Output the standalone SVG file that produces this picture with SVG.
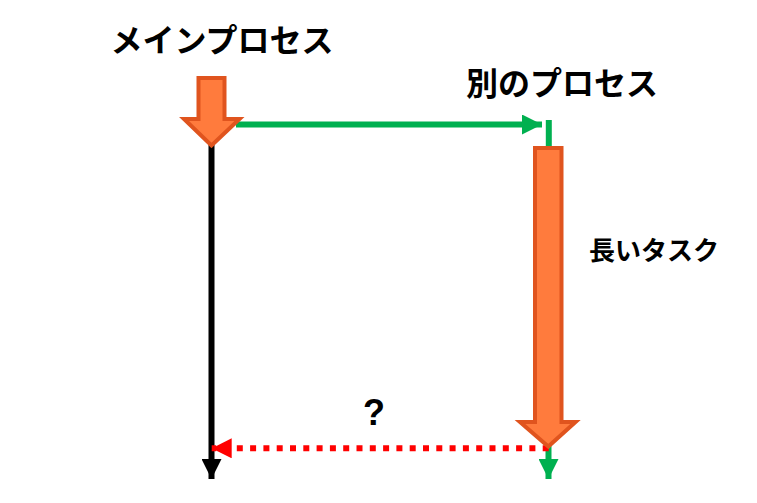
<svg xmlns="http://www.w3.org/2000/svg" width="757" height="503" viewBox="0 0 757 503">
  <style>
    .lbl { font-family: "Noto Sans CJK JP", "Noto Sans", sans-serif; font-weight: bold; fill: #000; text-anchor: middle; }
    .block { fill: #FF7B3D; stroke: #E0541E; stroke-width: 4; stroke-linejoin: miter; }
  </style>
  <defs>
    <marker id="ahGreen" markerUnits="userSpaceOnUse" markerWidth="20" markerHeight="20" refX="20" refY="10" orient="auto">
      <path d="M0,0 L20,10 L0,20 Z" fill="#00B050"/>
    </marker>
    <marker id="ahBlack" markerUnits="userSpaceOnUse" markerWidth="20" markerHeight="20" refX="20" refY="10" orient="auto">
      <path d="M0,0 L20,10 L0,20 Z" fill="#000"/>
    </marker>
    <marker id="ahRed" markerUnits="userSpaceOnUse" markerWidth="20" markerHeight="20" refX="20" refY="10" orient="auto">
      <path d="M0,0 L20,10 L0,20 Z" fill="#FF0000"/>
    </marker>
  </defs>

  <g id="connectors">
    <line x1="211.5" y1="140" x2="211.5" y2="479" stroke="#000" stroke-width="6" marker-end="url(#ahBlack)"/>
    <line x1="236" y1="124.5" x2="542" y2="124.5" stroke="#00B050" stroke-width="6" marker-end="url(#ahGreen)"/>
    <line x1="548.8" y1="120" x2="548.8" y2="150" stroke="#00B050" stroke-width="6"/>
    <line x1="548.5" y1="440" x2="548.5" y2="479" stroke="#00B050" stroke-width="6" marker-end="url(#ahGreen)"/>
    <line x1="548.7" y1="448.3" x2="211.7" y2="448.3" stroke="#FF0000" stroke-width="6" stroke-dasharray="6 7.3" marker-end="url(#ahRed)"/>
  </g>

  <g id="main-process">
    <polygon class="block" points="198.5,78 224.5,78 224.5,119 239.5,119 211.5,145.5 184,119 198.5,119"/>
    <text class="lbl" x="222" y="52" font-size="32">メインプロセス</text>
  </g>

  <g id="other-process">
    <text class="lbl" x="562" y="95" font-size="32">別のプロセス</text>
  </g>

  <g id="long-task">
    <polygon class="block" points="535,148 561.5,148 561.5,422 575.5,422 548.3,446.5 520,422 535,422"/>
    <text class="lbl" x="654" y="260" font-size="26">長いタスク</text>
  </g>

  <g id="question">
    <text x="374" y="425" font-family="Liberation Sans, Arial, sans-serif" font-weight="bold" font-size="36" text-anchor="middle" fill="#000">?</text>
  </g>
</svg>
